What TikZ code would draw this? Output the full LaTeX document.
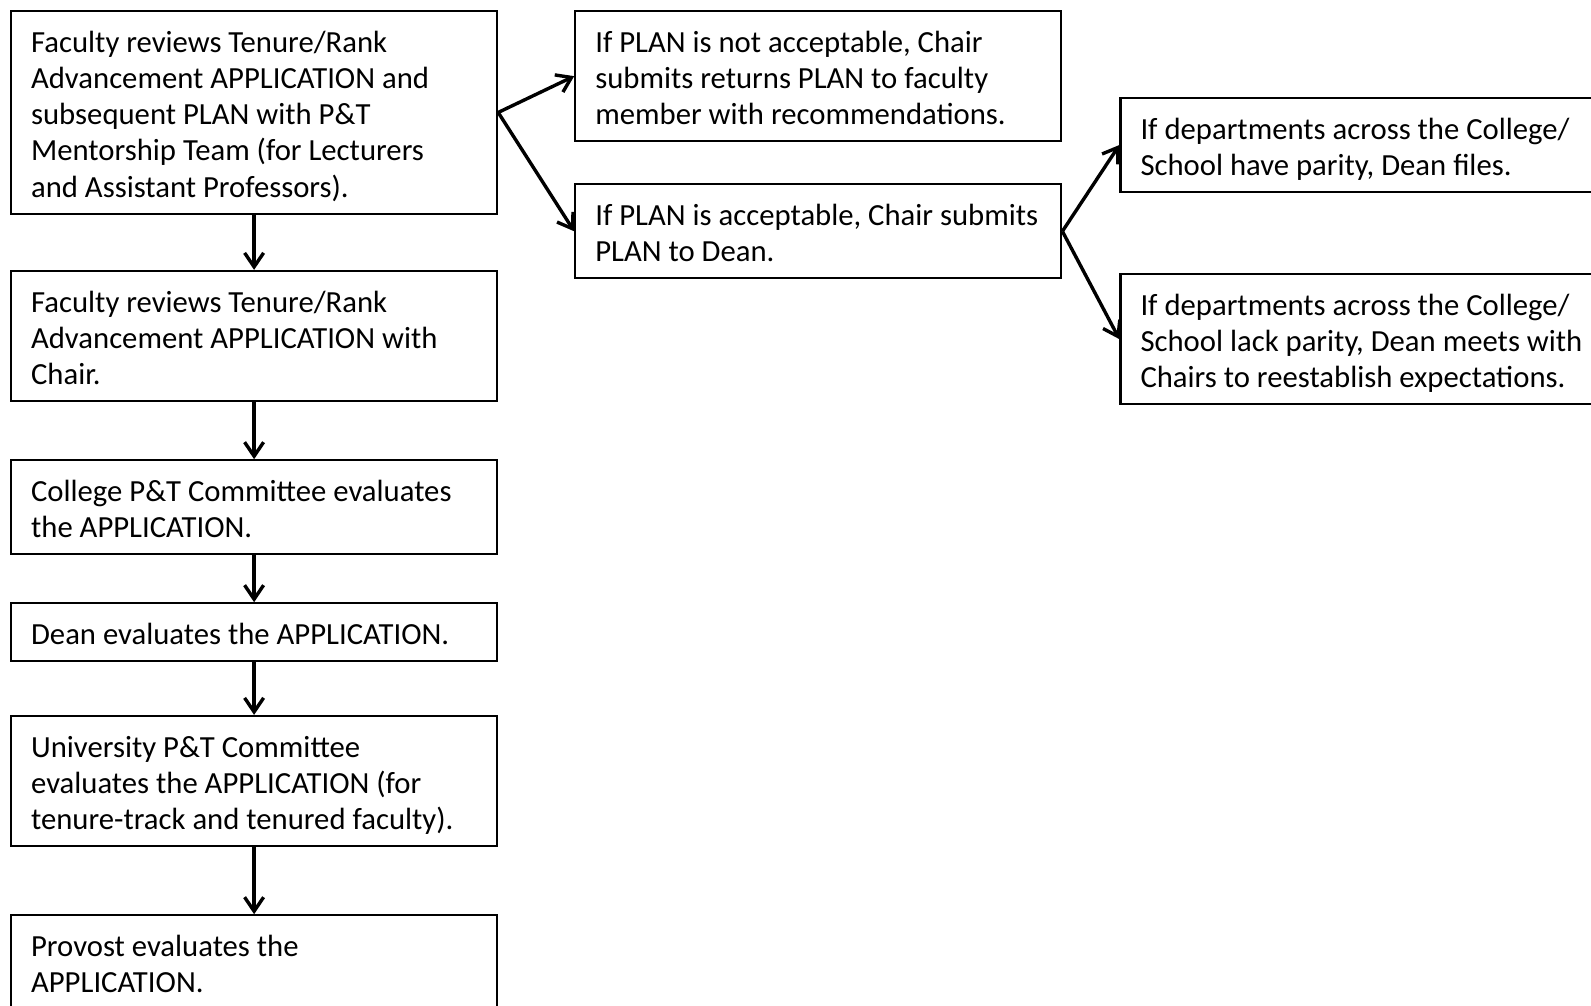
\documentclass[tikz,border=0pt]{standalone}
\usepackage{fontspec}
\setmainfont{Carlito}
\usetikzlibrary{arrows.meta,positioning}
\newcommand\boxfont{\fontsize{30.7}{36.3}\selectfont\hyphenpenalty=10000\relax}

\begin{document}
\begin{tikzpicture}[
    x=1pt, y=1pt,
    font=\boxfont,
    >={Straight Barb[length=14pt,width=19pt]},
    stepbox/.style={draw, line width=2.2pt, anchor=north west, align=flush left,
                    text width=446pt, inner xsep=20pt, inner ysep=10pt,
                    execute at begin node={\rule{0pt}{31pt}},
                    execute at end node={\rule[-6.5pt]{0pt}{6.5pt}}},
    link/.style={->, line width=3.4pt},
]
\useasboundingbox (0,0) rectangle (1591,-1006);
\clip (0,0) rectangle (1591,-1006);

% --- Main chain (left column) ---
\node[stepbox] (mentor) at (10,-10) {Faculty reviews Tenure/Rank\\Advancement APPLICATION and\\subsequent PLAN with P\&T\\Mentorship Team (for Lecturers\\and Assistant Professors).};
\node[stepbox, below=55pt of mentor.south west, anchor=north west]  (chair) {Faculty reviews Tenure/Rank\\Advancement APPLICATION with\\Chair.};
\node[stepbox, below=57pt of chair.south west, anchor=north west]   (college) {College P\&T Committee evaluates\\the APPLICATION.};
\node[stepbox, below=47pt of college.south west, anchor=north west] (dean) {Dean evaluates the APPLICATION.};
\node[stepbox, below=53pt of dean.south west, anchor=north west]    (univ) {University P\&T Committee\\evaluates the APPLICATION (for\\tenure-track and tenured faculty).};
\node[stepbox, below=67pt of univ.south west, anchor=north west]    (provost) {Provost evaluates the\\APPLICATION.};

\draw[link] (mentor) -- (chair);
\draw[link] (chair) -- (college);
\draw[link] (college) -- (dean);
\draw[link] (dean) -- (univ);
\draw[link] (univ) -- (provost);

% --- PLAN branch (middle) ---
\node[stepbox, right=76pt of mentor.north east, anchor=north west] (notok) {If PLAN is not acceptable, Chair\\submits returns PLAN to faculty\\member with recommendations.};
\node[stepbox, below=41pt of notok.south west, anchor=north west] (ok) {If PLAN is acceptable, Chair submits\\PLAN to Dean.};

\draw[link] (mentor.east) -- (notok.west);
\draw[link] (mentor.east) -- (ok.west);

% --- Parity branch (right, runs off the page) ---
\node[stepbox, right=57pt of notok.north east, anchor=north west, yshift=-87pt] (parity) {If departments across the College/\\School have parity, Dean files.};
\node[stepbox, below=80pt of parity.south west, anchor=north west] (noparity) {If departments across the College/\\School lack parity, Dean meets with\\Chairs to reestablish expectations.};

\draw[link] (ok.east) -- (parity.west);
\draw[link] (ok.east) -- (noparity.west);

\end{tikzpicture}
\end{document}
